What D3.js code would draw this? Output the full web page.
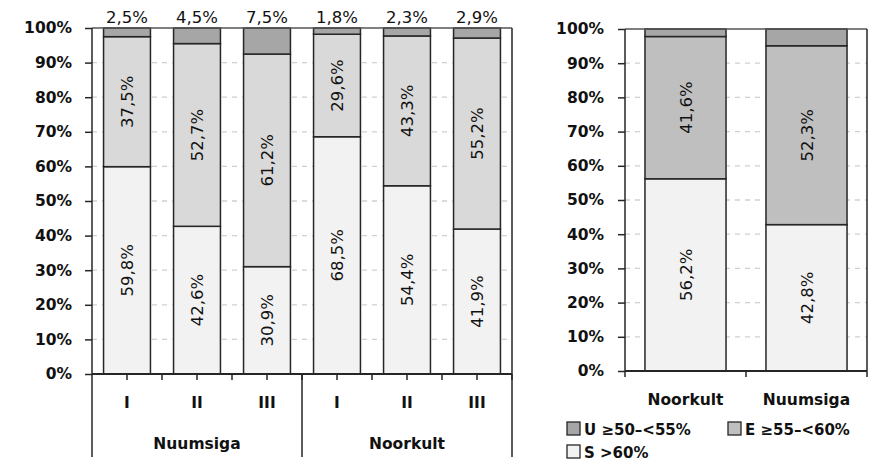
<!DOCTYPE html>
<html><head><meta charset="utf-8">
<script src="https://cdn.jsdelivr.net/npm/d3@7"></script>
<style>body{margin:0;background:#fff;} svg{display:block;font-family:"DejaVu Sans",sans-serif;}</style>
</head><body>
<svg id="c" width="877" height="464"></svg>
<script>
// ---- data ----
const groups = ["Nuumsiga", "Noorkult"];
const classes = ["I", "II", "III"];
const leftS = [59.8, 42.6, 30.9, 68.5, 54.4, 41.9];
const leftE = [37.5, 52.7, 61.2, 29.6, 43.3, 55.2];
const leftU = [2.5, 4.5, 7.5, 1.8, 2.3, 2.9];
const rightCats = ["Noorkult", "Nuumsiga"];
const rightS = [56.2, 42.8];
const rightE = [41.6, 52.3];
const rightU = [2.2, 4.9];
const yTicks = [0, 10, 20, 30, 40, 50, 60, 70, 80, 90, 100];
const legendLabels = ["U ≥50–<55%", "E ≥55–<60%", "S >60%"];

const svg = d3.select("#c");
const fmt = v => d3.format(".1f")(v).replace(".", ",") + "%";
const dark = "#262626";
const FONT = "'DejaVu Sans', sans-serif";

function drawChart(opt) {
  const {x0, x1, yTop, yBot, cats, S, E, U, colS, colE, colU, tickLabelX} = opt;
  const g = svg.append("g");
  const x = d3.scaleBand().domain(cats).range([x0, x1]).paddingInner(0.33).paddingOuter(0.165);
  const xb = d3.scaleBand().domain(cats).range([x0, x1]);
  const y = d3.scaleLinear().domain([0, 100]).range([yBot, yTop]);
  g.selectAll(".grid").data(yTicks.filter(t => t > 0 && t < 100)).join("line")
    .attr("x1", x0).attr("x2", x1).attr("y1", d => y(d)).attr("y2", d => y(d))
    .attr("stroke", "#d0d0d0").attr("stroke-width", 1.3).attr("stroke-dasharray", "5,5");
  const rows = cats.map((c, i) => ({c, S: S[i], E: E[i], U: U[i]}));
  const stack = d3.stack().keys(["S", "E", "U"]).offset(d3.stackOffsetExpand)(rows);
  const cols = {S: colS, E: colE, U: colU};
  stack.forEach(layer => {
    g.selectAll(null).data(layer).join("rect")
      .attr("x", d => x(d.data.c)).attr("width", x.bandwidth())
      .attr("y", d => y(d[1] * 100)).attr("height", d => y(d[0] * 100) - y(d[1] * 100))
      .attr("fill", cols[layer.key]).attr("stroke", dark).attr("stroke-width", 1.5);
  });
  ["S", "E"].forEach((k, li) => {
    const layer = stack[li];
    g.selectAll(null).data(layer).join("text")
      .attr("transform", d => `translate(${x(d.data.c) + x.bandwidth() / 2 + 6},${y((d[0] + d[1]) * 50)}) rotate(-90)`)
      .attr("text-anchor", "middle").attr("font-size", 16.5).attr("fill", "#111").attr("font-family", FONT)
      .text(d => fmt(d.data[k]));
  });
  g.append("line").attr("x1", x0).attr("x2", x1).attr("y1", yTop).attr("y2", yTop).attr("stroke", "#555").attr("stroke-width", 1.5);
  const ya = g.append("g").attr("transform", `translate(${x0},0)`)
    .call(d3.axisLeft(y).tickValues(yTicks).tickFormat(d => d + "%").tickSize(7).tickPadding(tickLabelX));
  ya.select(".domain").remove();
  ya.selectAll(".tick line").attr("stroke", dark).attr("stroke-width", 1.5);
  ya.selectAll(".tick text").attr("font-size", 15.5).attr("font-weight", 700).attr("fill", "#111").attr("font-family", FONT);
  g.append("line").attr("x1", x0).attr("x2", x0).attr("y1", yTop).attr("y2", opt.leftLineBot).attr("stroke", dark).attr("stroke-width", 1.5);
  g.append("line").attr("x1", x0).attr("x2", x1).attr("y1", yBot).attr("y2", yBot).attr("stroke", dark).attr("stroke-width", 2);
  return {g, x, xb, y};
}

// ---- left chart ----
const leftCats = groups.flatMap(gr => classes.map(c => gr + "|" + c));
const L = drawChart({x0: 92, x1: 512, yTop: 28, yBot: 374, cats: leftCats, S: leftS, E: leftE, U: leftU,
  colS: "#f2f2f2", colE: "#d9d9d9", colU: "#a6a6a6", tickLabelX: 13, leftLineBot: 457});
L.g.append("line").attr("x1", 512).attr("x2", 512).attr("y1", 28).attr("y2", 457).attr("stroke", dark).attr("stroke-width", 1.5);
L.g.selectAll(null).data(leftCats).join("text")
  .attr("x", d => L.x(d) + L.x.bandwidth() / 2).attr("y", 23)
  .attr("text-anchor", "middle").attr("font-size", 16.5).attr("fill", "#111")
  .text((d, i) => fmt(leftU[i]));
const tickXs = leftCats.flatMap(d => [L.xb(d) + L.xb.bandwidth() / 2, L.xb(d) + L.xb.bandwidth()]);
L.g.selectAll(null).data(tickXs).join("line")
  .attr("x1", d => d).attr("x2", d => d).attr("y1", 374).attr("y2", 380)
  .attr("stroke", dark).attr("stroke-width", 1.5);
L.g.selectAll(null).data(leftCats).join("text")
  .attr("x", d => L.xb(d) + L.xb.bandwidth() / 2).attr("y", 408)
  .attr("text-anchor", "middle").attr("font-size", 15.5).attr("font-weight", 700).attr("fill", "#111")
  .text(d => d.split("|")[1]);
const gx = L.xb(groups[1] + "|" + classes[0]);
L.g.append("line").attr("x1", gx).attr("x2", gx).attr("y1", 374).attr("y2", 457).attr("stroke", dark).attr("stroke-width", 1.5);
L.g.selectAll(null).data(groups).join("text")
  .attr("x", gr => L.xb(gr + "|" + classes[1]) + L.xb.bandwidth() / 2).attr("y", 449)
  .attr("text-anchor", "middle").attr("font-size", 15.5).attr("font-weight", 700).attr("fill", "#111")
  .text(d => d);

// ---- right chart ----
const R = drawChart({x0: 625, x1: 867, yTop: 29, yBot: 371, cats: rightCats, S: rightS, E: rightE, U: rightU,
  colS: "#f2f2f2", colE: "#bfbfbf", colU: "#a6a6a6", tickLabelX: 14, leftLineBot: 371});
R.g.append("line").attr("x1", 867).attr("x2", 867).attr("y1", 29).attr("y2", 371).attr("stroke", dark).attr("stroke-width", 1.5);
const rTicks = [625, ...rightCats.map(c => R.xb(c) + R.xb.bandwidth())];
R.g.selectAll(null).data(rTicks).join("line")
  .attr("x1", d => d).attr("x2", d => d).attr("y1", 371).attr("y2", 377)
  .attr("stroke", dark).attr("stroke-width", 1.5);
R.g.selectAll(null).data(rightCats).join("text")
  .attr("x", d => R.xb(d) + R.xb.bandwidth() / 2).attr("y", 405)
  .attr("text-anchor", "middle").attr("font-size", 15.5).attr("font-weight", 700).attr("fill", "#111")
  .text(d => d);
const legCols = ["#a6a6a6", "#bfbfbf", "#f2f2f2"];
const legPos = [[567, 435], [728, 435], [567, 458]];
const lg = svg.append("g");
legendLabels.forEach((t, i) => {
  lg.append("rect").attr("x", legPos[i][0]).attr("y", legPos[i][1] - 13).attr("width", 13).attr("height", 13)
    .attr("fill", legCols[i]).attr("stroke", dark).attr("stroke-width", 1.3);
  lg.append("text").attr("x", legPos[i][0] + 17).attr("y", legPos[i][1])
    .attr("font-size", 15).attr("font-weight", 700).attr("fill", "#111").text(t);
});
</script>
</body></html>
